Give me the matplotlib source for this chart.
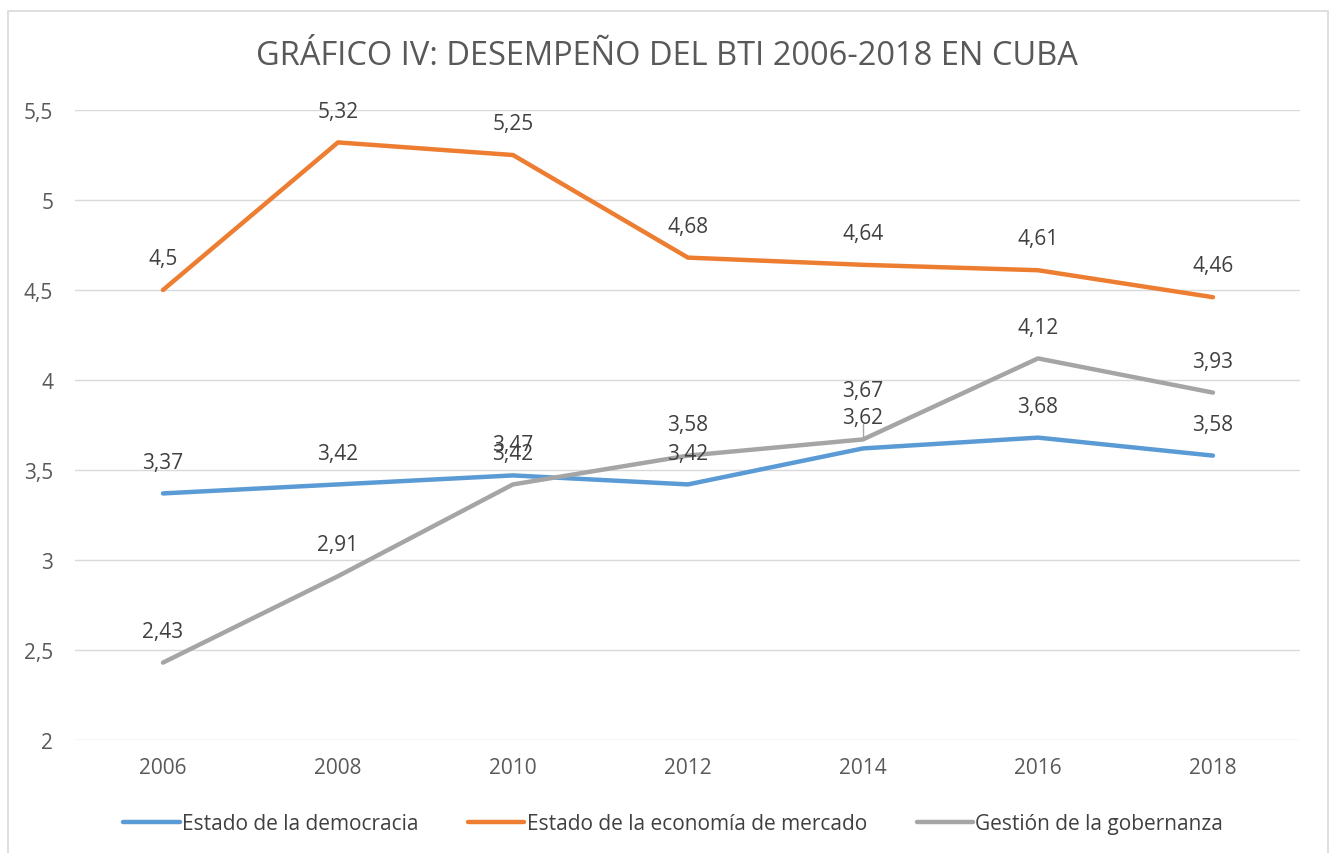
import numpy as np
import matplotlib.pyplot as plt
from matplotlib.patches import Rectangle

plt.rcParams['font.family'] = ['Open Sans', 'DejaVu Sans']

years = ['2006', '2008', '2010', '2012', '2014', '2016', '2018']
democracia = [3.37, 3.42, 3.47, 3.42, 3.62, 3.68, 3.58]
mercado = [4.5, 5.32, 5.25, 4.68, 4.64, 4.61, 4.46]
gobernanza = [2.43, 2.91, 3.42, 3.58, 3.67, 4.12, 3.93]

series = [
    ('Estado de la democracia', democracia, '#5B9BD5'),
    ('Estado de la economía de mercado', mercado, '#ED7D31'),
    ('Gestión de la gobernanza', gobernanza, '#A5A5A5'),
]

# label offsets in points (above the point), tweak where labels collide
offsets = {
    ('Gestión de la gobernanza', 4): 35,
}


def fmt(v):
    s = ('%.2f' % v).rstrip('0').rstrip('.')
    return s.replace('.', ',')


fig = plt.figure(figsize=(13.33, 8.54), dpi=100)
ax = fig.add_axes([0.0566, 0.1323, 0.919, 0.7377])

x = np.arange(len(years))
for name, vals, color in series:
    ax.plot(x, vals, color=color, linewidth=3.2, label=name, solid_capstyle='round')
    for i, v in enumerate(vals):
        off = offsets.get((name, i), 22.5)
        ax.annotate(fmt(v), (i, v), xytext=(0, off), textcoords='offset points',
                    ha='center', va='center', fontsize=15, color='#404040')

# leader line for the moved 3,67 label
ax.plot([4, 4], [3.67, 3.755], color='#A5A5A5', linewidth=1)

ax.set_xlim(-0.5, len(years) - 0.5)
ax.set_ylim(2, 5.5)
ax.set_xticks(x)
ax.set_xticklabels(years)
yt = np.arange(2, 5.51, 0.5)
ax.set_yticks(yt)
ax.set_yticklabels([fmt(v) for v in yt])
ax.tick_params(length=0, labelsize=15, labelcolor='#595959')
ax.tick_params(axis='y', pad=16)
ax.tick_params(axis='x', pad=12)
ax.grid(axis='y', color='#D9D9D9', linewidth=1)
ax.set_axisbelow(True)
for s in ax.spines.values():
    s.set_visible(False)

fig.text(0.5, 0.934, 'GRÁFICO IV: DESEMPEÑO DEL BTI 2006-2018 EN CUBA',
         ha='center', va='center', fontsize=23.5, color='#595959')

fig.legend(loc='center', bbox_to_anchor=(0.505, 0.034), ncol=3, frameon=False,
           fontsize=15, handlelength=2.7, handletextpad=0.1, columnspacing=2.4,
           labelcolor='#404040')

fig.patches.append(Rectangle((8 / 1333, -0.02), 1320 / 1333, 1.0 - 12 / 854 + 0.02,
                             transform=fig.transFigure, fill=False,
                             edgecolor='#D9D9D9', linewidth=1.2))

fig.savefig('out.png', dpi=100)
